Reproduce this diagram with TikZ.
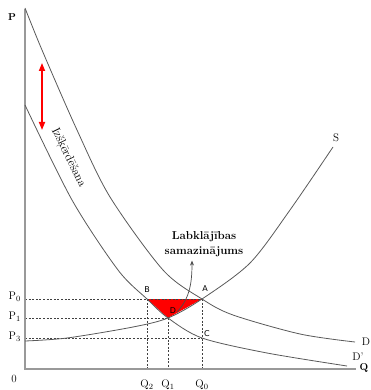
\documentclass[tikz,border=0pt]{standalone}
\usepackage{fontspec}
\setsansfont{DejaVu Sans}
\usetikzlibrary{arrows.meta}

\begin{document}
\begin{tikzpicture}[
  x=1pt, y=-1pt,
  axis/.style={draw=black!40, line width=1.3pt},
  curve/.style={draw=black!65, line width=0.8pt},
  guide/.style={draw=black!75, dash pattern=on 2pt off 1.6pt, line width=0.6pt},
  ptlabel/.style={font=\sffamily\fontsize{8}{9}\selectfont, inner sep=1pt},
  axlabel/.style={font=\fontsize{10}{11}\selectfont\bfseries, inner sep=1pt},
  ticklabel/.style={font=\fontsize{11}{12}\selectfont, inner sep=1pt},
  arr/.style={-{Stealth[length=5pt,width=4pt]}, line width=0.7pt, black!70},
  shiftarr/.style={{Triangle[length=8pt,width=6pt]}-{Triangle[length=8pt,width=6pt]}, red, line width=1.6pt},
]
  \useasboundingbox (0,0) rectangle (370,390);

  % axes
  \coordinate (O) at (25,369);
  \coordinate (ytop) at (25,9);
  \coordinate (xend) at (356,369);

  % market points
  \coordinate (A) at (202,299);
  \coordinate (B) at (147,299);
  \coordinate (D) at (168,318);
  \coordinate (C) at (202,338);

  % feet on the axes
  \coordinate (p0) at (O |- A);
  \coordinate (p1) at (O |- D);
  \coordinate (p3) at (O |- C);
  \coordinate (q2) at (O -| B);
  \coordinate (q1) at (O -| D);
  \coordinate (q0) at (O -| A);

  % welfare loss
  \fill[red] (B) -- (A) -- (D) -- cycle;

  % guides
  \draw[guide] (p0) -- (A);
  \draw[guide] (p1) -- (D);
  \draw[guide] (p3) -- (C);
  \draw[guide] (B) -- (q2);
  \draw[guide] (D) -- (q1);
  \draw[guide] (A) -- (q0);

  \draw[axis] (ytop) -- (O) -- (xend);

  % demand, lower demand, supply
  \draw[curve] plot[smooth] coordinates {(25,8) (42,50) (77,130) (110,197) (163,270) (A) (233,315) (300,334) (355,342)};
  \draw[curve] plot[smooth] coordinates {(25,105) (72,200) (118,270) (B) (D) (C) (267,353) (347,366)};
  \draw[curve] plot[smooth] coordinates {(25,341) (67,338) (133,327) (D) (A) (250,263) (290,210) (333,147)};

  \coordinate (shifttop) at (42,63);
  \coordinate (shiftbot) at (42,130);
  \draw[shiftarr] (shifttop) -- (shiftbot);

  \node[rotate=-64, font=\fontsize{12}{13}\selectfont] (waste) at (68,158) {Izšķērdēšana};

  % labels
  \node[axlabel] (plab) at (12,17) {P};
  \node[axlabel] (qlab) at (364,368) {Q};
  \node[ticklabel] (zero) at (14,379) {0};
  \node[ticklabel, anchor=east] at ([xshift=-3pt,yshift=2pt]p0) {P$_0$};
  \node[ticklabel, anchor=east] at ([xshift=-3pt,yshift=1pt]p1) {P$_1$};
  \node[ticklabel, anchor=east] at ([xshift=-3pt,yshift=1pt]p3) {P$_3$};
  \node[ticklabel] at ([yshift=-16pt]q2) {Q$_2$};
  \node[ticklabel] at ([yshift=-16pt]q1) {Q$_1$};
  \node[ticklabel] at ([yshift=-16pt]q0) {Q$_0$};

  \node[ptlabel] at ([xshift=0pt,yshift=9pt]B) {B};
  \node[ptlabel] at ([xshift=3pt,yshift=10pt]A) {A};
  \node[ptlabel] at ([xshift=5pt,yshift=7pt]D) {D};
  \node[ptlabel] at ([xshift=5pt,yshift=4pt]C) {C};

  \node[axlabel, font=\fontsize{11}{12}\selectfont] (slab) at (336,138) {S};
  \node[axlabel, font=\fontsize{11}{12}\selectfont] (dlab) at (366,342) {D};
  \node[axlabel, font=\fontsize{11}{12}\selectfont] (dplab) at (358,357) {D'};

  \node[font=\fontsize{11.5}{14.5}\selectfont\bfseries, align=center, inner sep=1pt] (welf) at (204,244) {Labklājības\\samazinājums};
  \coordinate (wstart) at (177,312);
  \draw[arr] (wstart) .. controls (189,299) and (192,285) .. ([xshift=-12pt,yshift=-3pt]welf.south);
\end{tikzpicture}
\end{document}
